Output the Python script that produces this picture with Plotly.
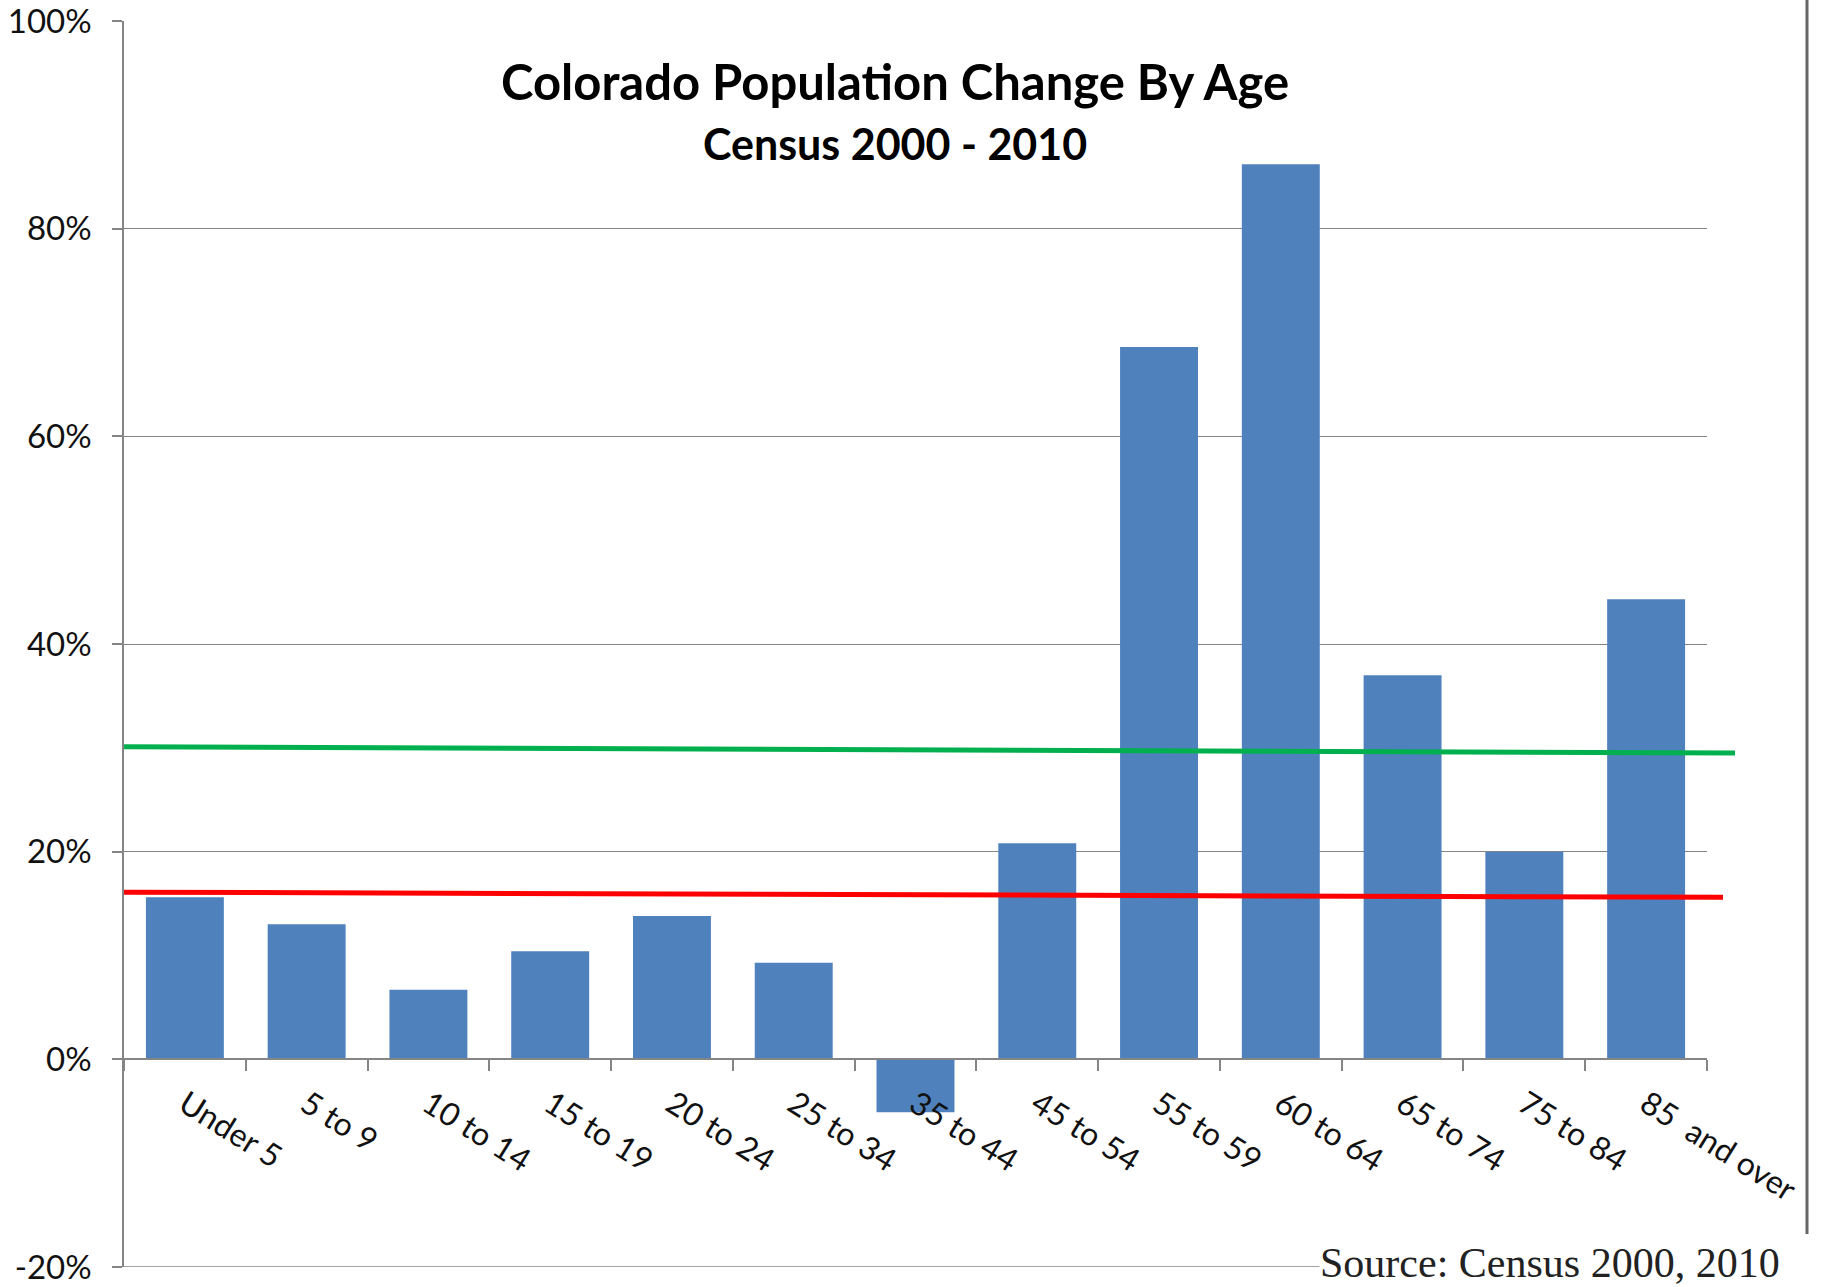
import plotly.graph_objects as go

categories = ["Under 5", "5 to 9", "10 to 14", "15 to 19", "20 to 24", "25 to 34",
              "35 to 44", "45 to 54", "55 to 59", "60 to 64", "65 to 74", "75 to 84",
              "85  and over"]
pct_change = [15.6, 13.0, 6.7, 10.4, 13.8, 9.3, -5.1, 20.8, 68.6, 86.2, 37.0, 20.0, 44.3]

green_line = [30.1, 29.5]   # left end, right end (%)
red_line = [16.1, 15.6]

y_ticks = [-20, 0, 20, 40, 60, 80, 100]
y_tick_text = ["-20%", "0%", "20%", "40%", "60%", "80%", "100%"]

title_text = "Colorado Population Change By Age"
subtitle_text = "Census 2000 - 2010"
source_text = "Source: Census 2000, 2010"

W, H = 1822, 1287
L, R, T, B = 124, 115, 21, 20
ymin, ymax = -20, 100

fig = go.Figure()
fig.add_trace(go.Bar(x=categories, y=pct_change, marker_color="#4F81BD",
                     marker_line_width=0, showlegend=False))

gray = "#858585"
fig.update_layout(
    width=W, height=H,
    margin=dict(l=L, r=R, t=T, b=B, autoexpand=False),
    paper_bgcolor="white", plot_bgcolor="white",
    bargap=0.36,
    font=dict(family="Lato, Arial", color="#111"),
    xaxis=dict(
        type="category", anchor="free", position=(0 - ymin) / (ymax - ymin),
        automargin=False,
        showline=True, linecolor=gray, linewidth=1.5,
        ticks="outside", ticklen=11, tickcolor=gray, tickwidth=1.5,
        tickson="boundaries", tickangle=32, ticklabelstandoff=13,
        tickfont=dict(family="Lato, Arial", size=32, color="#111"),
        showgrid=False, zeroline=False,
    ),
    yaxis=dict(
        range=[ymin, ymax], tickvals=y_ticks, ticktext=y_tick_text,
        automargin=False, ticklabeloverflow="allow",
        showline=True, linecolor=gray, linewidth=1.5,
        ticks="outside", ticklen=10, tickcolor=gray, tickwidth=1.5,
        ticklabelstandoff=14,
        tickfont=dict(family="Lato, Arial", size=33, color="#111"),
        showgrid=True, gridcolor=gray, gridwidth=1.2, zeroline=False,
    ),
)

pw = W - L - R
ph = H - T - B

def px_x(x):
    return (x - L) / pw

def px_y(y):
    return (H - B - y) / ph

# bottom gridline at the axis minimum
fig.add_shape(type="line", xref="paper", yref="y", x0=0, x1=1,
              y0=ymin, y1=ymin, layer="below", line=dict(color=gray, width=1.5))

fig.add_shape(type="line", xref="paper", yref="y", x0=0, x1=px_x(1735),
              y0=green_line[0], y1=green_line[1], line=dict(color="#00B04F", width=5))
fig.add_shape(type="line", xref="paper", yref="y", x0=0, x1=px_x(1723),
              y0=red_line[0], y1=red_line[1], line=dict(color="#FF0000", width=5))

# right frame line
fig.add_shape(type="line", xref="paper", yref="paper", x0=px_x(1807), x1=px_x(1807),
              y0=px_y(1234), y1=px_y(0), line=dict(color="#666", width=3))

fig.add_annotation(text="<b>" + title_text + "</b>", xref="paper", yref="paper",
                   x=px_x(895), y=px_y(81), xanchor="center", yanchor="middle",
                   showarrow=False, font=dict(family="Lato, Arial", size=49, color="#000"))
fig.add_annotation(text="<b>" + subtitle_text + "</b>", xref="paper", yref="paper",
                   x=px_x(895), y=px_y(143), xanchor="center", yanchor="middle",
                   showarrow=False, font=dict(family="Lato, Arial", size=43, color="#000"))
fig.add_annotation(text=source_text, xref="paper", yref="paper",
                   x=px_x(1550), y=px_y(1287), xanchor="center", yanchor="bottom",
                   showarrow=False, bgcolor="white", borderpad=0,
                   font=dict(family="Liberation Serif, serif", size=42, color="#222"))

fig.write_html("out.html", config={"displayModeBar": False},
               post_script="document.body.style.margin='0px';")
